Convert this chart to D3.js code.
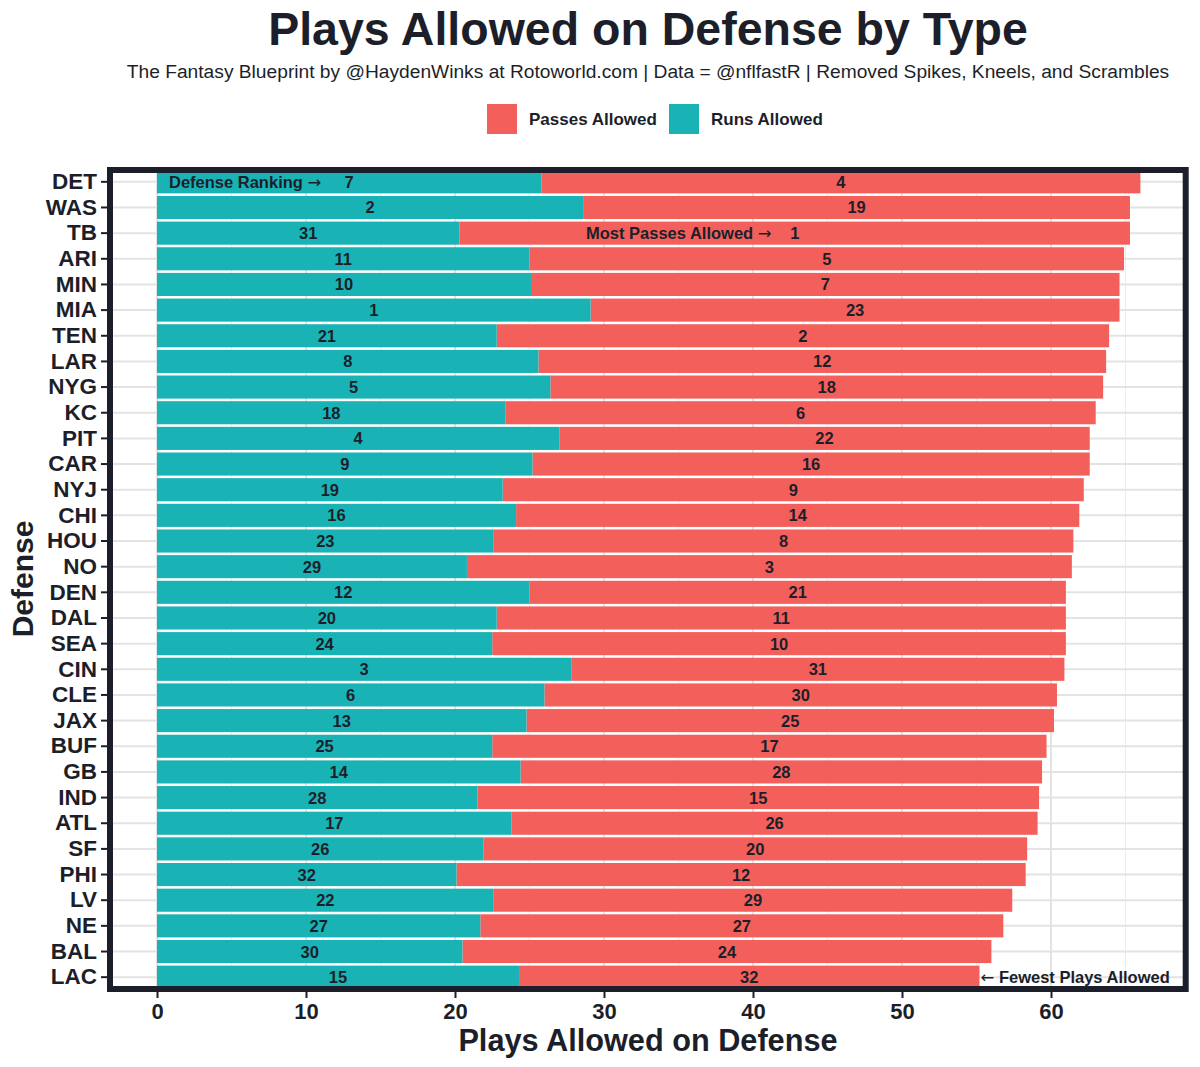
<!DOCTYPE html>
<html>
<head>
<meta charset="utf-8">
<script src="https://cdn.jsdelivr.net/npm/d3@7"></script>
<style>
  body { margin: 0; background: #fff; }
  svg { font-family: "Liberation Sans", Arial, sans-serif; }
</style>
</head>
<body>
<svg width="1200" height="1067"></svg>
<script>
// data, top row first
let teams = ["DET","WAS","TB","ARI","MIN","MIA","TEN","LAR","NYG","KC","PIT","CAR","NYJ","CHI","HOU","NO",
             "DEN","DAL","SEA","CIN","CLE","JAX","BUF","GB","IND","ATL","SF","PHI","LV","NE","BAL","LAC"];
let runs = [25.8,28.6,20.3,25.0,25.1,29.1,22.8,25.6,26.4,23.4,27.0,25.2,23.2,24.1,22.6,20.8,
            25.0,22.8,22.5,27.8,26.0,24.8,22.5,24.4,21.5,23.8,21.9,20.1,22.6,21.7,20.5,24.3];
let totals = [66.0,65.3,65.3,64.9,64.6,64.6,63.9,63.7,63.5,63.0,62.6,62.6,62.2,61.9,61.5,61.4,
              61.0,61.0,61.0,60.9,60.4,60.2,59.7,59.4,59.2,59.1,58.4,58.3,57.4,56.8,56.0,55.2];
let runRanks = [7,2,31,11,10,1,21,8,5,18,4,9,19,16,23,29,12,20,24,3,6,13,25,14,28,17,26,32,22,27,30,15];
let passRanks = [4,19,1,5,7,23,2,12,18,6,22,16,9,14,8,3,21,11,10,31,30,25,17,28,15,26,20,12,29,27,24,32];
let xTicks = [0,10,20,30,40,50,60];

let rows = teams.map((t, i) => ({team: t, runs: runs[i], total: totals[i], rr: runRanks[i], pr: passRanks[i]}));

let svg = d3.select("svg");
let ink = "#1c1f2a";
let red = "#f35f5b", teal = "#19b3b6";

let panel = {left: 110, top: 170, right: 1185.7, bottom: 989};

let x = d3.scaleLinear().domain([0, 60]).range([157, 1051]);
let y = d3.scaleBand().domain(teams).range([169, 990]).paddingInner(0.1).paddingOuter(0.05);
let mid = d => y(d) + y.bandwidth() / 2;

// clip to panel inside
svg.append("defs").append("clipPath").attr("id", "pclip")
    .append("rect")
    .attr("x", panel.left).attr("y", panel.top)
    .attr("width", panel.right - panel.left).attr("height", panel.bottom - panel.top);

let plot = svg.append("g").attr("clip-path", "url(#pclip)");

// grid
plot.append("g").selectAll("line.vminor")
    .data(d3.range(5, 70, 10))
    .enter().append("line")
    .attr("x1", d => x(d)).attr("x2", d => x(d))
    .attr("y1", panel.top).attr("y2", panel.bottom)
    .attr("stroke", "#ececec").attr("stroke-width", 1);
plot.append("g").selectAll("line.vmajor")
    .data(d3.range(0, 70, 10))
    .enter().append("line")
    .attr("x1", d => x(d)).attr("x2", d => x(d))
    .attr("y1", panel.top).attr("y2", panel.bottom)
    .attr("stroke", "#e3e3e3").attr("stroke-width", 2);
plot.append("g").selectAll("line.h")
    .data(teams)
    .enter().append("line")
    .attr("x1", panel.left).attr("x2", panel.right)
    .attr("y1", d => mid(d)).attr("y2", d => mid(d))
    .attr("stroke", "#e3e3e3").attr("stroke-width", 2);

// bars
plot.append("g").selectAll("rect.pass")
    .data(rows)
    .enter().append("rect")
    .attr("x", d => x(d.runs))
    .attr("width", d => x(d.total) - x(d.runs))
    .attr("y", d => y(d.team))
    .attr("height", y.bandwidth())
    .attr("fill", red);
plot.append("g").selectAll("rect.run")
    .data(rows)
    .enter().append("rect")
    .attr("x", x(0))
    .attr("width", d => x(d.runs) - x(0))
    .attr("y", d => y(d.team))
    .attr("height", y.bandwidth())
    .attr("fill", teal);

// rank labels
let lab = plot.append("g")
    .attr("font-size", 16.5).attr("font-weight", "bold").attr("fill", ink)
    .attr("text-anchor", "middle");
lab.selectAll("text.rr")
    .data(rows)
    .enter().append("text")
    .attr("x", d => x(d.runs / 2))
    .attr("y", d => mid(d.team) + 6)
    .text(d => d.rr);
lab.selectAll("text.pr")
    .data(rows)
    .enter().append("text")
    .attr("x", d => x((d.runs + d.total) / 2))
    .attr("y", d => mid(d.team) + 6)
    .text(d => d.pr);

// annotations
let ann = plot.append("g").attr("font-size", 16.5).attr("font-weight", "bold").attr("fill", ink);
function arrow(sel, ch) {
    sel.append("tspan").attr("font-family", "DejaVu Sans").attr("font-weight", "normal").text(ch);
}
let a1 = ann.append("text").attr("x", 169).attr("y", mid("DET") + 6);
a1.append("tspan").text("Defense Ranking ");
arrow(a1, "\u2192");
let a2 = ann.append("text").attr("x", 586).attr("y", mid("TB") + 6);
a2.append("tspan").text("Most Passes Allowed ");
arrow(a2, "\u2192");
let a3 = ann.append("text").attr("x", x(totals[31]) + 1).attr("y", mid("LAC") + 6);
arrow(a3, "\u2190");
a3.append("tspan").text(" Fewest Plays Allowed");

// border
svg.append("rect")
    .attr("x", panel.left).attr("y", panel.top)
    .attr("width", panel.right - panel.left).attr("height", panel.bottom - panel.top)
    .attr("fill", "none").attr("stroke", ink).attr("stroke-width", 6);

// y axis
let yAxis = svg.append("g")
    .attr("transform", `translate(${panel.left - 3},0)`)
    .call(d3.axisLeft(y).tickSize(6).tickPadding(4));
yAxis.select(".domain").remove();
yAxis.selectAll("line").attr("stroke", ink).attr("stroke-width", 2);
yAxis.selectAll("text")
    .attr("font-size", 22.5).attr("font-weight", "bold").attr("fill", ink)
    .attr("font-family", "Liberation Sans, Arial, sans-serif");

// x axis
let xAxis = svg.append("g")
    .attr("transform", `translate(0,${panel.bottom + 3})`)
    .call(d3.axisBottom(x).tickValues(xTicks).tickSize(6).tickPadding(5));
xAxis.select(".domain").remove();
xAxis.selectAll("line").attr("stroke", ink).attr("stroke-width", 2);
xAxis.selectAll("text")
    .attr("font-size", 22).attr("font-weight", "bold").attr("fill", ink)
    .attr("font-family", "Liberation Sans, Arial, sans-serif");

// axis titles
svg.append("text")
    .attr("x", 648).attr("y", 1051)
    .attr("text-anchor", "middle")
    .attr("font-size", 30.7).attr("font-weight", "bold").attr("fill", ink)
    .text("Plays Allowed on Defense");
svg.append("text")
    .attr("transform", "translate(33,579) rotate(-90)")
    .attr("text-anchor", "middle")
    .attr("font-size", 30).attr("font-weight", "bold").attr("fill", ink)
    .text("Defense");

// title + subtitle
svg.append("text")
    .attr("x", 648).attr("y", 45)
    .attr("text-anchor", "middle")
    .attr("font-size", 46.5).attr("font-weight", "bold").attr("fill", ink)
    .text("Plays Allowed on Defense by Type");
svg.append("text")
    .attr("x", 648).attr("y", 78)
    .attr("text-anchor", "middle")
    .attr("font-size", 19.2).attr("fill", ink)
    .text("The Fantasy Blueprint by @HaydenWinks at Rotoworld.com | Data = @nflfastR | Removed Spikes, Kneels, and Scrambles");

// legend
let legendItems = [{label: "Passes Allowed", color: red, x: 487}, {label: "Runs Allowed", color: teal, x: 669}];
let leg = svg.append("g");
leg.selectAll("rect")
    .data(legendItems)
    .enter().append("rect")
    .attr("x", d => d.x).attr("y", 104)
    .attr("width", 30).attr("height", 30)
    .attr("fill", d => d.color);
leg.selectAll("text")
    .data(legendItems)
    .enter().append("text")
    .attr("x", d => d.x + 42).attr("y", 125)
    .attr("font-size", 17).attr("font-weight", "bold").attr("fill", ink)
    .text(d => d.label);
</script>
</body>
</html>
